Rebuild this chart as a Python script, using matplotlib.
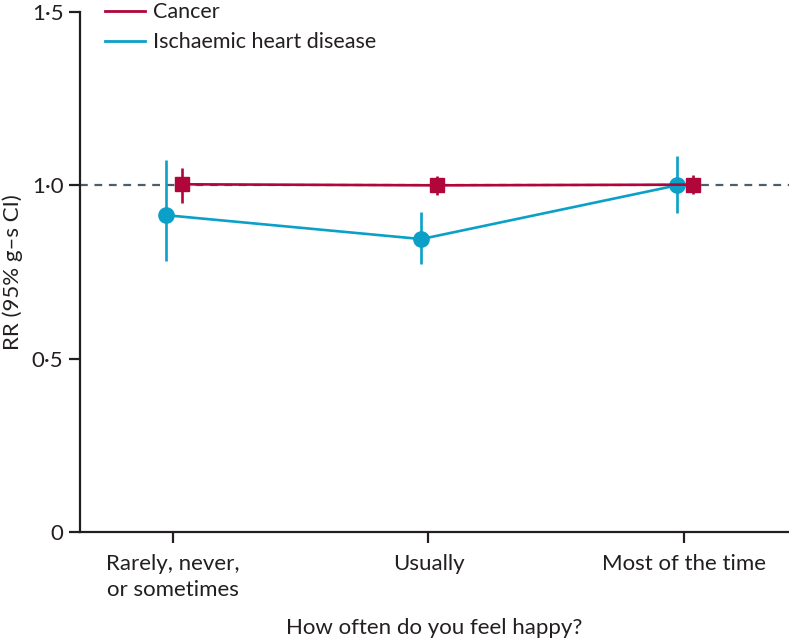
import matplotlib
matplotlib.use("Agg")
import matplotlib.pyplot as plt
from matplotlib.lines import Line2D

categories = ["Rarely, never,\nor sometimes", "Usually", "Most of the time"]
cancer_rr = [1.003, 1.0, 1.002]
cancer_lo = [0.948, 0.971, 0.974]
cancer_hi = [1.049, 1.026, 1.029]
ihd_rr = [0.914, 0.845, 1.0]
ihd_lo = [0.782, 0.773, 0.920]
ihd_hi = [1.072, 0.922, 1.086]
yticks = [0, 0.5, 1.0, 1.5]
yticklabels = ["0", "0\u00b75", "1\u00b70", "1\u00b75"]

plt.rcParams["font.family"] = ["Lato", "DejaVu Sans"]

c_cancer = "#b0063a"
c_ihd = "#0aa0c8"
c_ref = "#4a5f6e"
c_txt = "#231f20"

fig = plt.figure(figsize=(7.89, 6.39), dpi=100)
ax = fig.add_axes([80/789, 107/639, 1 - 80/789, 520/639])

x = list(range(len(categories)))
xc = [i + 0.035 for i in x]
xi = [i - 0.028 for i in x]

ax.axhline(1.0, color=c_ref, lw=1.6, ls=(0, (3.5, 3)), zorder=1)

ax.errorbar(xi, ihd_rr, yerr=[[r - l for r, l in zip(ihd_rr, ihd_lo)], [h - r for r, h in zip(ihd_rr, ihd_hi)]],
            color=c_ihd, lw=1.9, elinewidth=1.9, capsize=0, marker="o", ms=11,
            label="Ischaemic heart disease", zorder=3)
ax.errorbar(xc, cancer_rr, yerr=[[r - l for r, l in zip(cancer_rr, cancer_lo)], [h - r for r, h in zip(cancer_rr, cancer_hi)]],
            color=c_cancer, lw=1.9, elinewidth=1.9, capsize=0, marker="s", ms=10,
            label="Cancer", zorder=4)

ax.set_xlim(-0.363, 2.41)
ax.set_ylim(0, 1.5)
ax.set_yticks(yticks)
ax.set_yticklabels(yticklabels)
ax.set_xticks(x)
ax.set_xticklabels(categories, linespacing=1.35)
for s in ["top", "right"]:
    ax.spines[s].set_visible(False)
for s in ["left", "bottom"]:
    ax.spines[s].set_linewidth(1.6)
    ax.spines[s].set_color(c_txt)
ax.tick_params(axis="both", length=8, width=1.6, color=c_txt, labelsize=16, labelcolor=c_txt)
ax.tick_params(axis="x", pad=8)
ax.tick_params(axis="y", pad=4)
ax.set_xlabel("How often do you feel happy?", fontsize=16, color=c_txt, labelpad=13)
ax.set_ylabel("RR (95% g\u2013s CI)", fontsize=16, color=c_txt, labelpad=6)

handles = [Line2D([], [], color=c_cancer, lw=2), Line2D([], [], color=c_ihd, lw=2)]
fig.legend(handles, ["Cancer", "Ischaemic heart disease"], loc="upper left",
           bbox_to_anchor=(86/789, 1 + 17/639), frameon=False, fontsize=15.5,
           handlelength=1.85, handletextpad=0.35, labelspacing=0.45, labelcolor=c_txt)

fig.savefig("out.png", dpi=100)
